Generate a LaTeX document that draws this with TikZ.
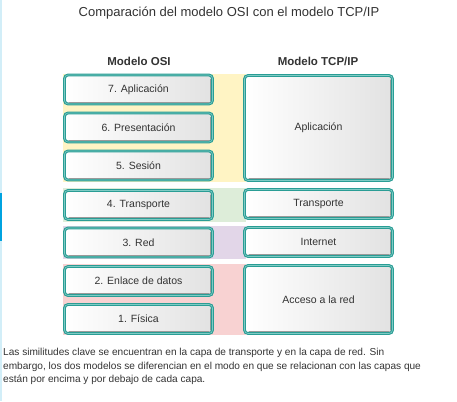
\documentclass[tikz,border=0pt]{standalone}
\usepackage{fontspec}
\setmainfont{Liberation Sans}
\definecolor{textgray}{HTML}{333333}
\definecolor{boxteal}{HTML}{2A9D95}
\definecolor{boxlight}{HTML}{7FCBC4}
\definecolor{boxshade}{HTML}{E2E2E2}
\definecolor{boxedge}{HTML}{9A9A9A}
\definecolor{band1}{HTML}{FFF4C4}
\definecolor{band2}{HTML}{DDEDD9}
\definecolor{band3}{HTML}{E2D6E8}
\definecolor{band4}{HTML}{F8D2D2}
\definecolor{edgelight}{HTML}{D2EEF8}
\definecolor{edgedark}{HTML}{00A3E0}
\tikzstyle{layer}=[
  rectangle,
  rounded corners=3.5pt,
  draw=boxteal,
  line width=1.1pt,
  double=boxlight,
  double distance=0.6pt,
  left color=white,
  right color=boxshade,
  text=textgray,
  font=\fontsize{10.5}{12}\selectfont,
  inner sep=0pt,
  ]
\tikzstyle{osi}=[ layer, minimum width=148pt, minimum height=29pt ]
\tikzstyle{tcp}=[ layer, minimum width=148pt ]
\tikzstyle{header}=[ text=textgray, font=\fontsize{11.5}{13}\bfseries ]
\tikzstyle{band}=[ draw=none ]
\tikzstyle{shadow line}=[ boxedge, line width=0.9pt, line cap=round ]

\begin{document}
\begin{tikzpicture}[
    x=1pt,
    y=-1pt,
    ]
    \useasboundingbox[fill=white] (0,0) rectangle (457,401);
    \fill[edgelight] (0,0) rectangle (2,401);
    \fill[edgedark] (0,193) rectangle (1.5,241);

    \node[text=textgray, font=\fontsize{13}{15}\selectfont] (title) at (229,13) {Comparación del modelo OSI con el modelo TCP/IP};
    \node[header] (hosi) at (139,61) {Modelo OSI};
    \node[header] (htcp) at (318,61) {Modelo TCP/IP};

    \fill[band, band1] (63,74) rectangle (246,182);
    \fill[band, band2] (63,188) rectangle (246,222);
    \fill[band, band3] (63,226) rectangle (246,259);
    \fill[band, band4] (63,264) rectangle (246,335);

    \node[osi] (n7) at (138.5,89.5) {7. Aplicación};
    \node[osi] (n6) at (138.5,127.5) {6. Presentación};
    \node[osi] (n5) at (138.5,165.5) {5. Sesión};
    \node[osi] (n4) at (138.5,205) {4. Transporte};
    \node[osi] (n3) at (138.5,242.5) {3. Red};
    \node[osi] (n2) at (138.5,281) {2. Enlace de datos};
    \node[osi] (n1) at (138.5,319) {1. Física};

    \node[tcp, minimum height=105pt] (t4) at (318.5,128) {Aplicación};
    \node[tcp, minimum height=29pt] (t3) at (318.5,204) {Transporte};
    \node[tcp, minimum height=29pt] (t2) at (318.5,242) {Internet};
    \node[tcp, minimum height=68pt] (t1) at (318.5,299.5) {Acceso a la red};

    \foreach \b in {n7,n6,n5,n4,n3,n2,n1,t4,t3,t2,t1}
      \draw[shadow line] ([xshift=-2.4pt,yshift=-5pt]\b.north east) -- ([xshift=-2.4pt,yshift=4pt]\b.south east)
        ([xshift=-4pt,yshift=2.4pt]\b.south east) -- ([xshift=5pt,yshift=2.4pt]\b.south west);

    \node[anchor=north west, text=textgray, align=left, inner sep=0pt,
      font=\fontsize{10.1}{13.6}\selectfont] (note) at (3,348)
      {Las similitudes clave se encuentran en la capa de transporte y en la capa de red. Sin\\
       embargo, los dos modelos se diferencian en el modo en que se relacionan con las capas que\\
       están por encima y por debajo de cada capa.};
  \end{tikzpicture}
\end{document}
